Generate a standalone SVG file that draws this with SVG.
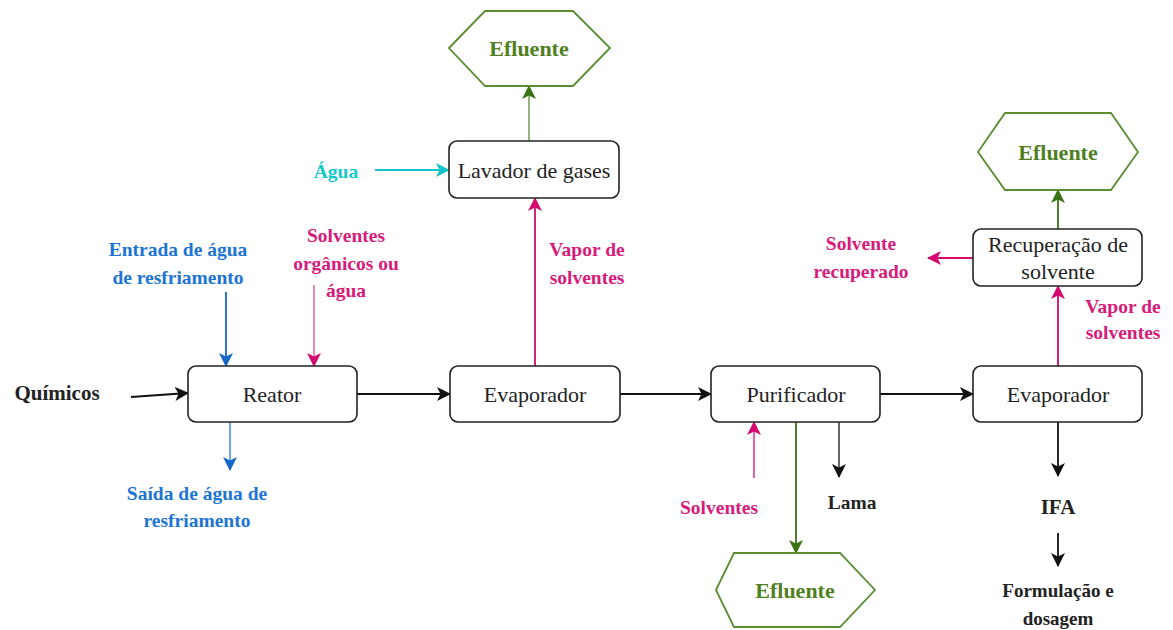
<svg xmlns="http://www.w3.org/2000/svg" width="1173" height="630" viewBox="0 0 1173 630">
<style>
text{font-family:"Liberation Serif","Times New Roman","DejaVu Serif",serif}
.box{fill:#fff;stroke:#222;stroke-width:1.6}
.hex{fill:#fff;stroke:#5a8c32;stroke-width:1.8}
.nt{font-size:22px;fill:#222;text-anchor:middle;dominant-baseline:central}
.lb{font-size:19.5px;font-weight:bold;text-anchor:middle;dominant-baseline:central}
.ef{font-size:22px;font-weight:bold;fill:#4f7f22;text-anchor:middle;dominant-baseline:central}
.blk{fill:#222}.pk{fill:#d81b7a}.bl{fill:#1c74d4}.cy{fill:#14c8cc}
.c{fill:none;stroke-width:1.8}
</style>
<defs>
<marker id="aK" markerUnits="userSpaceOnUse" markerWidth="16" markerHeight="16" refX="13" refY="7" orient="auto"><path d="M0,0 L14,7 L0,14 L3.5,7 Z" fill="#111"/></marker>
<marker id="aP" markerUnits="userSpaceOnUse" markerWidth="16" markerHeight="16" refX="13" refY="7" orient="auto"><path d="M0,0 L14,7 L0,14 L3.5,7 Z" fill="#d4086f"/></marker>
<marker id="aB" markerUnits="userSpaceOnUse" markerWidth="16" markerHeight="16" refX="13" refY="7" orient="auto"><path d="M0,0 L14,7 L0,14 L3.5,7 Z" fill="#1468c8"/></marker>
<marker id="aC" markerUnits="userSpaceOnUse" markerWidth="16" markerHeight="16" refX="13" refY="7" orient="auto"><path d="M0,0 L14,7 L0,14 L3.5,7 Z" fill="#12c4c8"/></marker>
<marker id="aG" markerUnits="userSpaceOnUse" markerWidth="16" markerHeight="16" refX="13" refY="7" orient="auto"><path d="M0,0 L14,7 L0,14 L3.5,7 Z" fill="#3a7214"/></marker>
</defs>
<g id="connectors">
<line class="c" x1="131" y1="397" x2="188" y2="393" stroke="#111" marker-end="url(#aK)"/>
<line class="c" x1="357" y1="394" x2="450" y2="394" stroke="#111" marker-end="url(#aK)"/>
<line class="c" x1="620" y1="394" x2="711" y2="394" stroke="#111" marker-end="url(#aK)"/>
<line class="c" x1="880" y1="394" x2="973" y2="394" stroke="#111" marker-end="url(#aK)"/>
<line class="c" x1="226" y1="292" x2="226" y2="366" stroke="#1468c8" marker-end="url(#aB)"/>
<line class="c" x1="314" y1="285" x2="314" y2="366" stroke="#e67aae" stroke-width="2.2" marker-end="url(#aP)"/>
<line class="c" x1="230" y1="422" x2="230" y2="470" stroke="#5a9fe0" stroke-width="2.2" marker-end="url(#aB)"/>
<line class="c" x1="535" y1="366" x2="535" y2="198" stroke="#d4086f" marker-end="url(#aP)"/>
<line class="c" x1="529" y1="141" x2="529" y2="86" stroke="#8aab6c" stroke-width="2.6" marker-end="url(#aG)"/>
<line class="c" x1="375" y1="170" x2="449" y2="170" stroke="#12c4c8" marker-end="url(#aC)"/>
<line class="c" x1="754" y1="478" x2="754" y2="422" stroke="#e6559a" stroke-width="2.2" marker-end="url(#aP)"/>
<line class="c" x1="796" y1="422" x2="796" y2="553" stroke="#3a7214" marker-end="url(#aG)"/>
<line class="c" x1="839" y1="422" x2="839" y2="477" stroke="#555" stroke-width="2.2" marker-end="url(#aK)"/>
<line class="c" x1="1058" y1="422" x2="1058" y2="476" stroke="#111" marker-end="url(#aK)"/>
<line class="c" x1="1058" y1="533" x2="1058" y2="566" stroke="#111" marker-end="url(#aK)"/>
<line class="c" x1="1058" y1="366" x2="1058" y2="286" stroke="#d4086f" marker-end="url(#aP)"/>
<line class="c" x1="1058" y1="229" x2="1058" y2="190" stroke="#3a7214" marker-end="url(#aG)"/>
<line class="c" x1="973" y1="258" x2="928" y2="258" stroke="#d4086f" marker-end="url(#aP)"/>
</g>
<g id="reator"><rect class="box" x="188" y="366" width="169" height="56" rx="8"/><text class="nt" x="272" y="394">Reator</text></g>
<g id="evaporador1"><rect class="box" x="450" y="366" width="170" height="56" rx="8"/><text class="nt" x="535" y="394">Evaporador</text></g>
<g id="purificador"><rect class="box" x="711" y="366" width="169" height="56" rx="8"/><text class="nt" x="796" y="394">Purificador</text></g>
<g id="evaporador2"><rect class="box" x="973" y="366" width="169" height="56" rx="8"/><text class="nt" x="1058" y="394">Evaporador</text></g>
<g id="lavador"><rect class="box" x="449" y="141" width="170" height="57" rx="8"/><text class="nt" x="534" y="170">Lavador de gases</text></g>
<g id="recuperacao"><rect class="box" x="973" y="229" width="169" height="57" rx="8"/><text class="nt" x="1058" y="244">Recuperação de</text><text class="nt" x="1058" y="271">solvente</text></g>
<g id="efluente1"><polygon class="hex" points="449,48 485,11 573,11 610,48 573,86 485,86"/><text class="ef" x="529" y="48">Efluente</text></g>
<g id="efluente2"><polygon class="hex" points="978,152 1005,113 1111,113 1138,152 1111,190 1005,190"/><text class="ef" x="1058" y="152">Efluente</text></g>
<g id="efluente3"><polygon class="hex" points="716,590 734,553 840,553 875,590 840,627 734,627"/><text class="ef" x="795" y="590">Efluente</text></g>
<g id="labels">
<text class="lb blk" x="57" y="393" style="font-size:21px">Químicos</text>
<text class="lb bl" x="178" y="249">Entrada de água</text>
<text class="lb bl" x="178" y="277">de resfriamento</text>
<text class="lb pk" x="346" y="235">Solventes</text>
<text class="lb pk" x="346" y="263">orgânicos ou</text>
<text class="lb pk" x="346" y="290">água</text>
<text class="lb bl" x="197" y="493">Saída de água de</text>
<text class="lb bl" x="197" y="520">resfriamento</text>
<text class="lb pk" x="587" y="249">Vapor de</text>
<text class="lb pk" x="587" y="277">solventes</text>
<text class="lb cy" x="336" y="171">Água</text>
<text class="lb pk" x="719" y="507">Solventes</text>
<text class="lb blk" x="852" y="502">Lama</text>
<text class="lb pk" x="1123" y="306">Vapor de</text>
<text class="lb pk" x="1123" y="332">solventes</text>
<text class="lb pk" x="861" y="243">Solvente</text>
<text class="lb pk" x="861" y="271">recuperado</text>
<text class="lb blk" x="1058" y="507" style="font-size:21px">IFA</text>
<text class="lb blk" x="1058" y="590" style="font-size:19px">Formulação e</text>
<text class="lb blk" x="1058" y="618" style="font-size:19px">dosagem</text>
</g>
</svg>
